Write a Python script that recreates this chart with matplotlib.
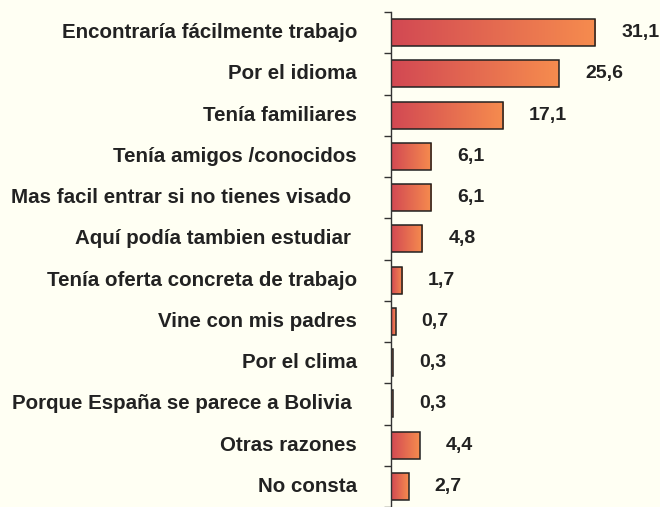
import matplotlib
matplotlib.use("Agg")
import matplotlib.pyplot as plt
import numpy as np
from matplotlib.colors import LinearSegmentedColormap

categories = [
    "Encontraría fácilmente trabajo",
    "Por el idioma",
    "Tenía familiares",
    "Tenía amigos /conocidos",
    "Mas facil entrar si no tienes visado ",
    "Aquí podía tambien estudiar ",
    "Tenía oferta concreta de trabajo",
    "Vine con mis padres",
    "Por el clima",
    "Porque España se parece a Bolivia ",
    "Otras razones",
    "No consta",
]
values = [31.1, 25.6, 17.1, 6.1, 6.1, 4.8, 1.7, 0.7, 0.3, 0.3, 4.4, 2.7]
value_labels = ["31,1", "25,6", "17,1", "6,1", "6,1", "4,8", "1,7", "0,7", "0,3", "0,3", "4,4", "2,7"]

bg = "#FFFFF3"
text_color = "#222222"
cmap = LinearSegmentedColormap.from_list("bar_grad", ["#D24853", "#F68C4E"])

plt.rcParams["font.family"] = ["Liberation Sans", "DejaVu Sans"]

fig = plt.figure(figsize=(6.6, 5.07), dpi=100, facecolor=bg)
ax = fig.add_axes([391 / 660, 0.0, 1 - 391 / 660, 1 - 12 / 507])
ax.set_facecolor(bg)

px = 6.56  # pixels per unit
xmax = 269 / px
n = len(categories)

bar_h = 0.65
grad = np.linspace(0, 1, 256).reshape(1, -1)
for i, (v, lab) in enumerate(zip(values, value_labels)):
    ax.imshow(grad, extent=[0, v, i + bar_h / 2, i - bar_h / 2], aspect="auto",
              cmap=cmap, interpolation="bilinear", zorder=2)
    ax.text(v + 26 / px, i, lab, ha="left", va="center", fontsize=14,
            fontweight="bold", color=text_color, zorder=4, clip_on=False)
    ax.text(-34 / px, i, categories[i], ha="right", va="center", fontsize=14.8,
            fontweight="bold", color=text_color, zorder=4)

ax.barh(range(n), values, height=bar_h, facecolor="none", edgecolor="#222222",
        linewidth=1.1, zorder=3)

ax.set_xlim(0, xmax)
ax.set_ylim(n - 0.5, -0.5)

for side in ["top", "right", "bottom"]:
    ax.spines[side].set_visible(False)
ax.spines["left"].set_color("#333333")
ax.spines["left"].set_linewidth(1.0)
ax.spines["left"].set_zorder(5)
ax.set_xticks([])
ax.set_yticks(np.arange(-0.5, n, 1.0))
ax.set_yticklabels([])
ax.tick_params(axis="y", direction="out", length=5, width=1.0, color="#333333")

fig.savefig("out.png", dpi=100, facecolor=bg)
